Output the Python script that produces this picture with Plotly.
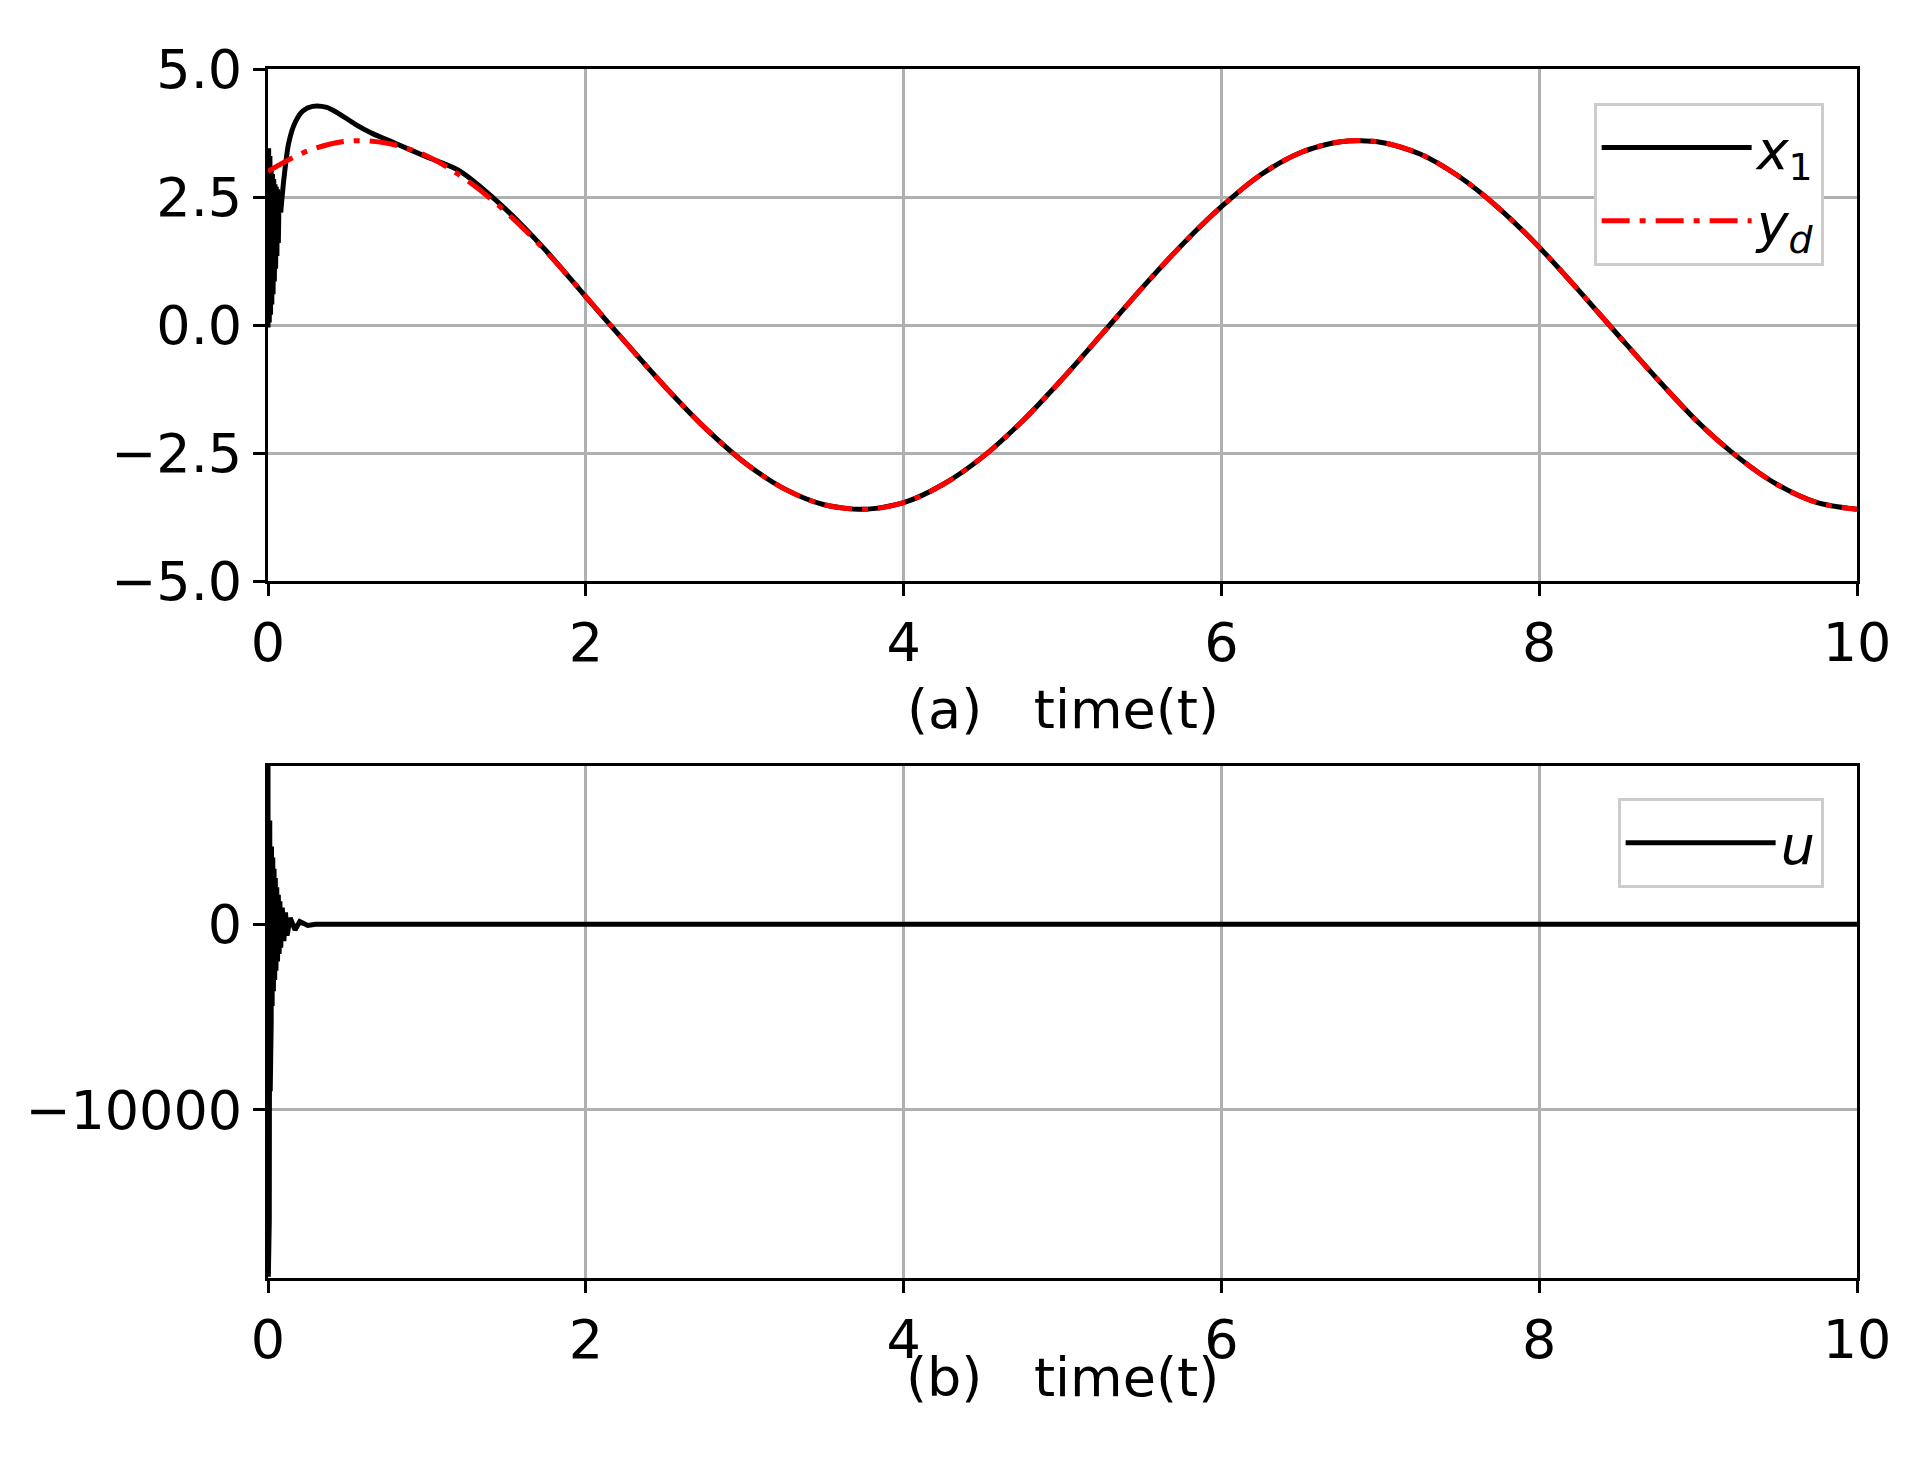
import plotly.graph_objects as go
from plotly.subplots import make_subplots

# reference signal y_d
t_ref = [0, 0.25, 0.5, 0.75, 1.0, 1.25, 1.5, 1.75, 2.0, 2.25, 2.5, 2.75, 3.0, 3.25,
         3.5, 3.75, 4.0, 4.25, 4.5, 4.75, 5.0, 5.25, 5.5, 5.75, 6.0, 6.25, 6.5, 6.75,
         7.0, 7.25, 7.5, 7.75, 8.0, 8.25, 8.5, 8.75, 9.0, 9.25, 9.5, 9.75, 10.0]
yd = [3.00, 3.40, 3.59, 3.55, 3.30, 2.83, 2.20, 1.43, 0.56, -0.34, -1.21, -2.01, -2.69,
      -3.20, -3.51, -3.60, -3.47, -3.11, -2.57, -1.87, -1.05, -0.17, 0.72, 1.56, 2.31,
      2.94, 3.37, 3.58, 3.57, 3.34, 2.89, 2.27, 1.52, 0.67, -0.21, -1.08, -1.90, -2.58,
      -3.12, -3.47, -3.60]

# state x1: fast chattering at start, overshoot, then tracking
t_x1_fast = [0, 0.004, 0.008, 0.012, 0.016, 0.02, 0.024, 0.028, 0.032, 0.036, 0.04,
             0.044, 0.048, 0.052, 0.056, 0.06, 0.065, 0.07, 0.08]
x1_fast = [-0.05, 3.45, 0.05, 3.30, 0.20, 3.10, 0.40, 2.95, 0.60, 2.85, 0.85, 2.75,
           1.10, 2.70, 1.35, 2.65, 1.60, 2.60, 2.20]
t_x1_slow = [0.08, 0.1, 0.13, 0.17, 0.22, 0.28, 0.37, 0.45, 0.55, 0.65, 0.8, 1.0, 1.2,
             1.5, 1.75, 2.0, 2.25, 2.5, 2.75, 3.0, 3.25, 3.5, 3.75, 4.0, 4.25, 4.5,
             4.75, 5.0, 5.25, 5.5, 5.75, 6.0, 6.25, 6.5, 6.75, 7.0, 7.25, 7.5, 7.75,
             8.0, 8.25, 8.5, 8.75, 9.0, 9.25, 9.5, 9.75, 10.0]
x1_slow = [2.20, 2.85, 3.55, 3.95, 4.18, 4.27, 4.25, 4.12, 3.92, 3.75, 3.55, 3.28,
           3.02, 2.25, 1.45, 0.55, -0.34, -1.21, -2.01, -2.69, -3.20, -3.51, -3.60,
           -3.47, -3.11, -2.57, -1.87, -1.05, -0.17, 0.72, 1.56, 2.31, 2.94, 3.37,
           3.58, 3.57, 3.34, 2.89, 2.27, 1.52, 0.67, -0.21, -1.08, -1.90, -2.58,
           -3.12, -3.47, -3.60]

# control input u, panel (b)
t_u = [0, 0.002, 0.005, 0.008, 0.011, 0.014, 0.017, 0.02, 0.022, 0.026, 0.03, 0.034,
       0.038, 0.042, 0.046, 0.05, 0.055, 0.06, 0.065, 0.07, 0.075, 0.08, 0.09, 0.1,
       0.11, 0.12, 0.14, 0.17, 0.2, 0.25, 0.3, 1.0, 5.0, 10.0]
u = [8540, -19000, 7000, -16000, 5600, -9000, 4700, -5300, 4200, -4400, 3600, -3600,
     3000, -3000, 2500, -2500, 2000, -2000, 1600, -1600, 1250, -1250, 900, -900, 650,
     -600, 350, -300, 150, -60, 0, 0, 0, 0]

fig = make_subplots(rows=2, cols=1, vertical_spacing=0.153)

fig.add_trace(go.Scatter(x=t_x1_fast, y=x1_fast, mode="lines", showlegend=False,
                         line=dict(color="black", width=5)), row=1, col=1)
fig.add_trace(go.Scatter(x=t_x1_slow, y=x1_slow, mode="lines",
                         name="<i>x</i><sub>1</sub>",
                         line=dict(color="black", width=5, shape="spline", smoothing=0.8)),
              row=1, col=1)
fig.add_trace(go.Scatter(x=t_ref, y=yd, mode="lines", name="<i>y</i><sub><i>d</i></sub>",
                         line=dict(color="red", width=5, dash="28px,10px,6px,10px",
                                   shape="spline")),
              row=1, col=1)
fig.add_trace(go.Scatter(x=t_u, y=u, mode="lines", name="<i>u</i>", legend="legend2",
                         line=dict(color="black", width=5)), row=2, col=1)

axis_style = dict(showline=True, linecolor="black", linewidth=3, mirror=True,
                  ticks="outside", ticklen=12, tickwidth=3, tickcolor="black",
                  showgrid=True, gridcolor="#b0b0b0", gridwidth=2.5, zeroline=False,
                  tickfont=dict(size=54, color="black"))

fig.update_xaxes(axis_style, range=[0, 10], tickvals=[0, 2, 4, 6, 8, 10])
fig.update_yaxes(axis_style)
fig.update_yaxes(range=[-5, 5], tickvals=[-5, -2.5, 0, 2.5, 5],
                 ticktext=["−5.0", "−2.5", "0.0", "2.5", "5.0"], row=1, col=1)
fig.update_yaxes(range=[-19070, 8540], tickvals=[-10000, 0],
                 ticktext=["−10000", "0"], row=2, col=1)

legend_style = dict(xanchor="right", yanchor="top", x=0.979, bgcolor="white",
                    bordercolor="#cccccc", borderwidth=3,
                    font=dict(size=54, color="black"), itemwidth=150,
                    tracegroupgap=10)
fig.update_layout(
    legend=dict(legend_style, y=0.972),
    legend2=dict(legend_style, y=0.397),
)

fig.add_annotation(text="(a)   time(t)", x=0.5, y=0.47, xref="paper", yref="paper",
                   showarrow=False, font=dict(size=54, color="black"))
fig.add_annotation(text="(b)   time(t)", x=0.5, y=-0.11, xref="paper", yref="paper",
                   showarrow=False, font=dict(size=54, color="black"))

fig.update_layout(
    width=1910, height=1459,
    margin=dict(l=260, r=61, t=61, b=189),
    plot_bgcolor="white", paper_bgcolor="white",
    font=dict(family="DejaVu Sans", color="black"),
    showlegend=True,
)

fig.write_html("out.html")
